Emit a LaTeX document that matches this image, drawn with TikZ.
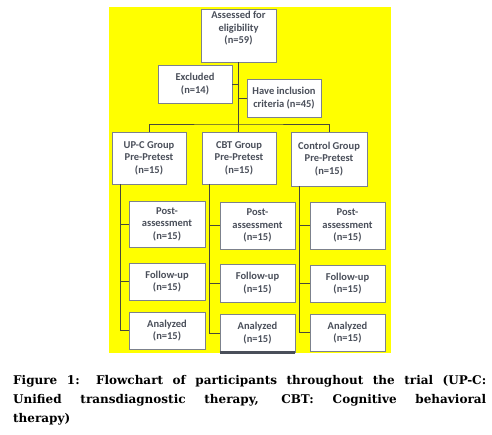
\documentclass[tikz,border=0pt]{standalone}
\usepackage{fontspec}
\newfontfamily\boxfont{Carlito}
\newfontfamily\capfont{DejaVu Serif}
\definecolor{bgyellow}{HTML}{FFFF00}
\definecolor{boxline}{HTML}{7C818C}
\definecolor{boxtext}{HTML}{4A4F5A}
\definecolor{connline}{HTML}{4A4A3A}
\begin{document}
\begin{tikzpicture}[x=1pt,y=-1pt,
  fbox/.style={draw=boxline,line width=0.8pt,fill=white,inner sep=0pt,align=center,
    font=\boxfont\bfseries\fontsize{10.5}{12.6}\selectfont,text=boxtext},
  conn/.style={draw=connline,line width=0.7pt},
  captext/.style={anchor=base west,inner sep=0pt,font=\capfont\bfseries\fontsize{12}{19}\selectfont}]
\useasboundingbox (0,0) rectangle (492,435);
\fill[white] (0,0) rectangle (492,435);
\fill[bgyellow] (109,7) rectangle (391,353);

% top boxes
\node[fbox,minimum width=75pt,minimum height=53pt] (A) at (238.5,35.5) {Assessed for\\eligibility\\(n=59)\\[3pt]};
\node[fbox,minimum width=74pt,minimum height=38pt] (Ex) at (195,84) {Excluded\\(n=14)};
\node[fbox,minimum width=74pt,minimum height=38pt] (Inc) at (284,98) {Have inclusion\\criteria (n=45)};

% group boxes
\node[fbox,minimum width=74pt,minimum height=52pt] (G1) at (149,158) {UP-C Group\\Pre-Pretest\\(n=15)};
\node[fbox,minimum width=74pt,minimum height=52pt] (G2) at (239,158) {CBT Group\\Pre-Pretest\\(n=15)};
\node[fbox,minimum width=76pt,minimum height=54pt] (G3) at (329,159) {Control Group\\Pre-Pretest\\(n=15)};

% column 1
\node[fbox,minimum width=76pt,minimum height=46pt] (P1) at (167,224) {Post-\\assessment\\(n=15)};
\node[fbox,minimum width=76pt,minimum height=37pt] (F1) at (167,281.5) {Follow-up\\(n=15)};
\node[fbox,minimum width=76pt,minimum height=37pt] (N1) at (167,330.5) {Analyzed\\(n=15)};
% column 2
\node[fbox,minimum width=75pt,minimum height=47pt] (P2) at (257.5,225.5) {Post-\\assessment\\(n=15)};
\node[fbox,minimum width=75pt,minimum height=38pt] (F2) at (257.5,283) {Follow-up\\(n=15)};
\node[fbox,minimum width=75pt,minimum height=38pt] (N2) at (257.5,333) {Analyzed\\(n=15)};
% column 3
\node[fbox,minimum width=75pt,minimum height=47pt] (P3) at (347.5,225.5) {Post-\\assessment\\(n=15)};
\node[fbox,minimum width=75pt,minimum height=37pt] (F3) at (347.5,283.5) {Follow-up\\(n=15)};
\node[fbox,minimum width=75pt,minimum height=37pt] (N3) at (347.5,332.5) {Analyzed\\(n=15)};
\draw[line width=2.5pt,draw=boxtext] (N2.south west) -- (N2.south east);

% connectors top
\coordinate (bar) at (238,124);
\draw[conn] (A.south) -- (A.south |- bar);
\draw[conn] (Ex.east) -- (Ex.east -| A.south);
\draw[conn] (Inc.west) -- (Inc.west -| A.south);
\draw[conn] (G1.north) |- (bar) -| (G3.north);
\draw[conn] (bar) -- (bar |- G2.north);

% column connectors
\coordinate (c1) at (120,184);
\coordinate (c2) at (209,184);
\coordinate (c3) at (299,186);
\draw[conn] (c1) |- (N1.west);
\draw[conn] (c1 |- P1.west) -- (P1.west);
\draw[conn] (c1 |- F1.west) -- (F1.west);
\draw[conn] (c2) |- (N2.west);
\draw[conn] (c2 |- P2.west) -- (P2.west);
\draw[conn] (c2 |- F2.west) -- (F2.west);
\draw[conn] (c3) |- (N3.west);
\draw[conn] (c3 |- P3.west) -- (P3.west);
\draw[conn] (c3 |- F3.west) -- (F3.west);

% caption
\node[captext] (cap1) at (13,384) {\makebox[473pt][s]{Figure 1: Flowchart of participants throughout the trial (UP-C:}};
\node[captext] (cap2) at (13,403) {\makebox[473pt][s]{Unified transdiagnostic therapy, CBT: Cognitive behavioral}};
\node[captext] (cap3) at (13,422) {therapy)};
\end{tikzpicture}
\end{document}
